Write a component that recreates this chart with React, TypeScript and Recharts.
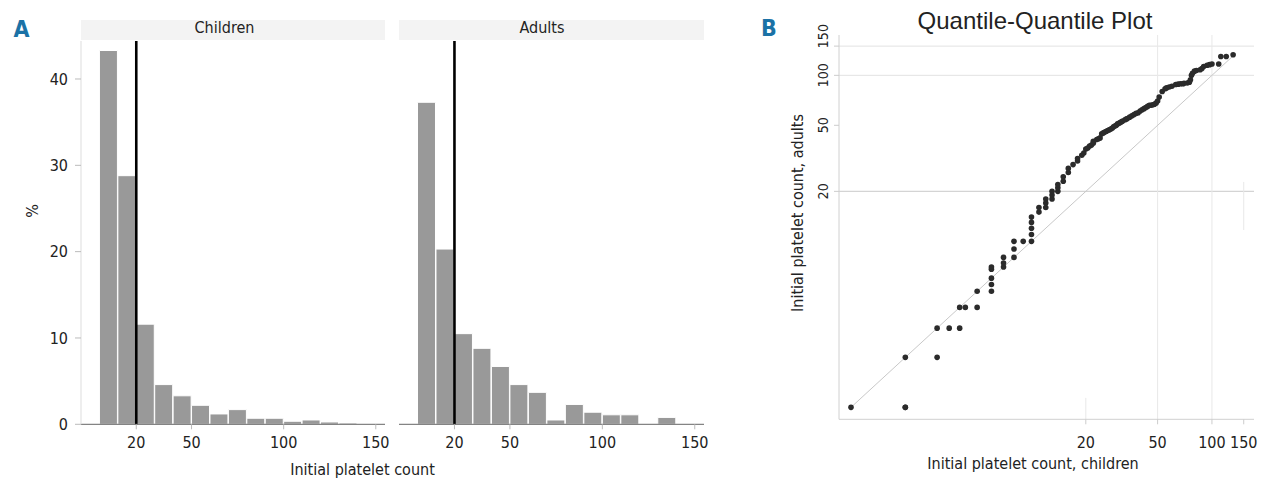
import React from 'react';
import {
  BarChart,
  Bar,
  XAxis,
  YAxis,
  ReferenceLine,
  ScatterChart,
  Scatter,
} from 'recharts';

// Histogram bins (mid-points of 10-unit bins, 0-150)
const binMids = [5, 15, 25, 35, 45, 55, 65, 75, 85, 95, 105, 115, 125, 135, 145];
const childrenPct = [43.3, 28.8, 11.6, 4.6, 3.3, 2.2, 1.2, 1.7, 0.7, 0.7, 0.35, 0.5, 0.27, 0.15, 0];
const adultsPct = [37.3, 20.3, 10.5, 8.8, 6.7, 4.6, 3.7, 0.5, 2.3, 1.4, 1.1, 1.1, 0, 0.8, 0];
const histTicks = [20, 50, 100, 150];
const pctTicks = [0, 10, 20, 30, 40];
const cutoff = 20;

// Q-Q plot quantiles (children on x, adults on y)
const qqChildren = [
  1, 2, 2, 2, 3, 3, 3.5, 4, 4, 4.3, 5, 5, 6, 6, 6, 6, 6, 7, 7, 7, 8, 8, 8, 9, 10, 10, 10, 10, 10, 11,
  11, 12, 12, 12, 13, 13, 13, 14, 14, 14, 15, 15, 16, 16,
  17, 18, 18, 19, 19.5, 20, 20.5, 21, 21.5, 22, 22, 23, 23.5, 24, 24.5, 25, 25.5, 26, 26.5, 27,
  27.5, 28, 28.5, 29, 29.5, 30, 30.5, 31, 31.5, 32, 33, 33.5, 34, 35, 36, 37, 38, 39, 40, 41,
  42, 43, 44, 45, 46, 47, 48, 49, 50, 51, 53, 55, 56, 58, 60, 63, 65, 67, 69, 70,
  73, 75, 76, 77, 78, 80, 82, 86, 88, 90, 94, 97, 100, 109, 112, 120, 131,
];
const qqAdults = [
  1, 1, 1, 2, 2, 3, 3, 3, 4, 4, 4, 5, 5, 5.5, 6, 6.8, 7, 7, 7.4, 8, 8, 9, 10, 10, 10, 11, 12, 13, 14, 15,
  16, 16, 17, 18, 18, 19, 20, 20, 21, 22, 23, 24.5, 26, 27.5,
  29, 30.5, 31.5, 33, 34, 36, 36.5, 37.5, 38, 39, 40, 41, 41.5, 42, 44.5, 45, 45.5, 46, 46.5, 47,
  47.5, 48, 49, 49.5, 50, 51, 51.5, 52, 52.5, 53, 54, 54.5, 55, 56, 57, 58, 59, 59.5, 61, 62,
  63, 64, 65, 66, 66, 66.5, 67, 68, 70, 74, 80, 83, 84, 85, 86, 88, 88.5, 89, 89, 89.5,
  90, 91, 94, 100, 103, 106, 107, 108, 110, 113, 115, 116, 117, 117, 130, 130, 133,
];
const qqTicks = [20, 50, 100, 150];
// the top y label is nudged up so it does not run into "100"
const qqYLabelShift: Record<number, number> = { 150: -10 };

const NARROW = '"DejaVu Sans Condensed", "Liberation Sans Narrow", sans-serif';
const SANS = '"Liberation Sans", Arial, sans-serif';
const TEXT = '#222';
const BLUE = '#1b72a6';

const childrenData = binMids.map((mid, i) => ({ mid, pct: childrenPct[i] }));
const adultsData = binMids.map((mid, i) => ({ mid, pct: adultsPct[i] }));
const qqData = qqChildren.map((x, i) => ({ x, y: qqAdults[i] }));

const Txt = ({ x, y, size, children, rotate, weight, color, family }: any) => (
  <div
    style={{
      position: 'absolute',
      left: x,
      top: y,
      transform: `translate(-50%, -50%)${rotate ? ' rotate(-90deg)' : ''}`,
      fontSize: size,
      fontWeight: weight || 'normal',
      fontFamily: family || NARROW,
      color: color || TEXT,
      whiteSpace: 'nowrap',
      lineHeight: 1,
    }}
  >
    {children}
  </div>
);

const RotatedTick = (props: any) => {
  const { x, payload } = props;
  const y = props.y + (qqYLabelShift[payload.value] || 0);
  return (
    <text
      x={x}
      y={y}
      transform={`rotate(-90 ${x} ${y})`}
      textAnchor="middle"
      fill={TEXT}
      fontSize={14}
      fontFamily={NARROW}
    >
      {payload.value}
    </text>
  );
};

const Dot = (props: any) => <circle cx={props.cx} cy={props.cy} r={2.8} fill="#2b2b2b" />;

const histTick = { fill: TEXT, fontSize: 16, fontFamily: NARROW };

const Histogram = ({ data, width, left, right, showY }: any) => (
  <BarChart
    width={width}
    height={489}
    data={data}
    margin={{ top: 41, right, bottom: 34.7, left }}
    barCategoryGap={0}
    barGap={0}
  >
    <XAxis
      dataKey="mid"
      type="number"
      domain={[-10, 155]}
      ticks={histTicks}
      interval={0}
      allowDataOverflow
      height={30}
      tickSize={5}
      tickMargin={7}
      axisLine={{ stroke: '#666' }}
      tickLine={{ stroke: '#bbb' }}
      tick={histTick}
    />
    <YAxis
      type="number"
      domain={[0, 44.4]}
      ticks={pctTicks}
      interval={0}
      allowDataOverflow
      hide={!showY}
      width={81}
      tickSize={6}
      tickMargin={7}
      axisLine={{ stroke: '#ddd' }}
      tickLine={{ stroke: '#bbb' }}
      tick={histTick}
    />
    <Bar dataKey="pct" fill="#999999" stroke="#ffffff" strokeWidth={1} isAnimationActive={false} />
    <ReferenceLine x={cutoff} stroke="#000" strokeWidth={2.6} />
  </BarChart>
);

export default function App() {
  return (
    <div
      style={{
        position: 'absolute',
        left: 0,
        top: 0,
        width: 1280,
        height: 489,
        background: '#fff',
        overflow: 'hidden',
      }}
    >
      {/* Panel A */}
      <Txt x={21.5} y={28.5} size={23} weight="bold" color={BLUE}>A</Txt>
      <div style={{ position: 'absolute', left: 81, top: 20, width: 304, height: 20, background: '#f3f3f3' }} />
      <div style={{ position: 'absolute', left: 399, top: 20, width: 305, height: 20, background: '#f3f3f3' }} />
      <Txt x={224.5} y={28} size={16}>Children</Txt>
      <Txt x={542} y={28} size={16}>Adults</Txt>
      <div style={{ position: 'absolute', left: 0, top: 0 }}>
        <Histogram data={childrenData} width={400} left={0} right={15} showY />
      </div>
      <div style={{ position: 'absolute', left: 390, top: 0 }}>
        <Histogram data={adultsData} width={330} left={9} right={16} showY={false} />
      </div>
      <Txt x={33} y={211} size={16} rotate>%</Txt>
      <Txt x={362.5} y={470} size={16}>Initial platelet count</Txt>

      {/* Panel B */}
      <Txt x={769} y={28} size={23} weight="bold" color={BLUE}>B</Txt>
      <Txt x={1035} y={20.5} size={24} family={SANS}>Quantile-Quantile Plot</Txt>
      <div style={{ position: 'absolute', left: 760, top: 0 }}>
        <ScatterChart width={520} height={489} margin={{ top: 35, right: 26, bottom: 29.7, left: 39 }}>
          <XAxis
            type="number"
            dataKey="x"
            scale="log"
            domain={[0.858, 171]}
            ticks={qqTicks}
            interval={0}
            allowDataOverflow
            height={40}
            tickSize={5}
            tickMargin={12}
            axisLine={{ stroke: '#d0d0d0' }}
            tickLine={{ stroke: '#ccc' }}
            tick={histTick}
          />
          <YAxis
            type="number"
            dataKey="y"
            scale="log"
            domain={[0.847, 175]}
            ticks={qqTicks}
            interval={0}
            allowDataOverflow
            width={40}
            tickSize={5}
            tickMargin={6}
            axisLine={{ stroke: '#d0d0d0' }}
            tickLine={{ stroke: '#ccc' }}
            tick={<RotatedTick />}
          />
          <ReferenceLine y={150} stroke="#e2e2e2" />
          <ReferenceLine y={100} stroke="#e2e2e2" />
          <ReferenceLine y={20} stroke="#d4d4d4" strokeWidth={1.3} />
          <ReferenceLine x={50} stroke="#e8e8e8" />
          <ReferenceLine x={100} stroke="#e8e8e8" />
          <ReferenceLine segment={[{ x: 20, y: 0.847 }, { x: 20, y: 1.14 }]} stroke="#e8e8e8" />
          <ReferenceLine segment={[{ x: 150, y: 11.7 }, { x: 150, y: 22.8 }]} stroke="#e8e8e8" />
          <ReferenceLine segment={[{ x: 1, y: 1 }, { x: 131, y: 131 }]} stroke="#c8c8c8" />
          <Scatter data={qqData} shape={<Dot />} isAnimationActive={false} />
        </ScatterChart>
      </div>
      <Txt x={1033} y={463.5} size={16}>Initial platelet count, children</Txt>
      <Txt x={798} y={213} size={16} rotate>Initial platelet count, adults</Txt>
    </div>
  );
}
